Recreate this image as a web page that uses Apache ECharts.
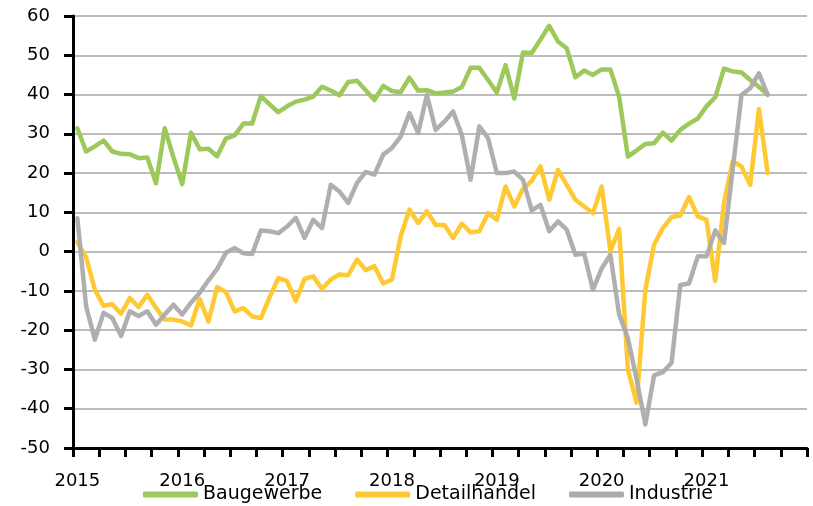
<!DOCTYPE html>
<html>
<head>
<meta charset="utf-8">
<script src="https://cdn.jsdelivr.net/npm/echarts@6/dist/echarts.min.js"></script>
<style>html,body{margin:0;padding:0;background:#fff;}#c{width:813px;height:506px;}</style>
</head>
<body>
<div id="c"></div>
<script>
const years = ['2015','2016','2017','2018','2019','2020','2021'];
const yTicks = [-50,-40,-30,-20,-10,0,10,20,30,40,50,60];
const seriesNames = ['Baugewerbe','Detailhandel','Industrie'];

const baugewerbe = [31.4,25.5,26.8,28.3,25.5,24.9,24.8,23.8,24.0,17.4,31.4,24.0,
  17.2,30.3,26.1,26.2,24.3,28.8,29.6,32.6,32.6,39.6,37.5,35.5,
  37.0,38.2,38.7,39.5,42.0,41.0,39.8,43.2,43.5,41.1,38.6,42.2,
  40.9,40.6,44.3,41.0,41.1,40.3,40.5,40.8,41.9,46.8,46.8,43.7,
  40.5,47.5,39.0,50.7,50.6,54.0,57.5,53.5,51.8,44.4,46.1,45.0,
  46.4,46.4,39.4,24.2,25.8,27.4,27.6,30.3,28.3,31.0,32.6,33.9,
  37.0,39.3,46.6,45.9,45.6,43.7,41.9,40.0];
const detailhandel = [2.4,-1.4,-9.7,-13.8,-13.4,-15.8,-11.8,-14.1,-11.0,-14.3,-17.3,-17.3,
  -17.8,-18.8,-12.0,-17.8,-9.0,-10.3,-15.2,-14.4,-16.5,-16.9,-11.6,-6.7,
  -7.5,-12.6,-6.9,-6.3,-9.5,-7.1,-5.8,-6.0,-2.0,-4.7,-3.7,-8.1,
  -7.1,3.9,10.7,7.3,10.3,6.8,6.8,3.5,7.1,4.9,5.2,9.8,
  8.1,16.6,11.5,16.0,18.0,21.7,13.2,20.8,17.0,13.2,11.5,9.8,
  16.6,0.1,5.8,-30.0,-38.5,-9.7,1.8,6.0,8.8,9.2,13.9,9.0,
  8.1,-7.5,12.4,23.0,21.7,17.0,36.3,20.0];
const industrie = [8.5,-13.9,-22.4,-15.6,-16.9,-21.5,-15.2,-16.4,-15.2,-18.6,-16.0,-13.5,
  -16.0,-13.0,-10.5,-7.3,-4.4,-0.3,0.9,-0.4,-0.6,5.4,5.2,4.7,
  6.4,8.6,3.5,8.1,6.0,17.0,15.3,12.4,17.5,20.3,19.6,24.7,
  26.4,29.3,35.3,30.2,39.9,31.0,33.1,35.7,29.7,18.3,31.9,28.9,
  20.0,20.0,20.4,18.3,10.5,11.9,5.2,7.7,5.6,-0.8,-0.5,-9.7,
  -4.3,-0.8,-16.0,-22.0,-32.5,-44.0,-31.5,-30.7,-28.3,-8.5,-8.1,-1.2,
  -1.2,5.4,2.2,21.0,39.9,41.6,45.4,39.9];

// monthly categories 2015-01 .. 2021-12
const months = [];
years.forEach(y => { for (let m = 1; m <= 12; m++) months.push(y + '-' + String(m).padStart(2,'0')); });

const colors = ['#9DC85A','#FFC933','#ABABAB'];
const FONT = 'DejaVu Sans';

const chart = echarts.init(document.getElementById('c'), null, {renderer:'canvas'});
chart.setOption({
  animation: false,
  backgroundColor: '#fff',
  color: colors,
  grid: {left: 73, right: 6, top: 16, bottom: 58, containLabel: false},
  legend: {
    data: seriesNames,
    left: 138, top: 480,
    itemWidth: 55, itemHeight: 6, itemGap: 33,
    icon: 'roundRect',
    textStyle: {fontFamily: FONT, fontSize: 19, color: '#000', padding: [0,0,0,0]}
  },
  xAxis: {
    type: 'category',
    data: months,
    boundaryGap: true,
    axisLine: {show: true, onZero: false, lineStyle: {color: '#000', width: 3}},
    axisTick: {show: true, interval: 2, length: 9, lineStyle: {color: '#000', width: 3}},
    axisLabel: {interval: 11, margin: 24, fontFamily: FONT, fontSize: 18, color: '#000',
      formatter: v => v.slice(0,4)},
    splitLine: {show: false}
  },
  yAxis: {
    type: 'value',
    min: yTicks[0], max: yTicks[yTicks.length-1], interval: 10,
    axisLine: {show: true, lineStyle: {color: '#000', width: 3}},
    axisTick: {show: true, length: 9, lineStyle: {color: '#000', width: 3}},
    axisLabel: {margin: 23, fontFamily: FONT, fontSize: 18, color: '#000'},
    splitLine: {show: true, lineStyle: {color: '#A6A6A6', width: 1.5}}
  },
  series: [
    {name: seriesNames[0], type: 'line', data: baugewerbe, symbol: 'none',
      lineStyle: {width: 4.5, cap: 'round', join: 'round'}},
    {name: seriesNames[1], type: 'line', data: detailhandel, symbol: 'none',
      lineStyle: {width: 4.5, cap: 'round', join: 'round'}},
    {name: seriesNames[2], type: 'line', data: industrie, symbol: 'none',
      lineStyle: {width: 4.5, cap: 'round', join: 'round', opacity: 0.95}}
  ]
});
</script>
</body>
</html>
